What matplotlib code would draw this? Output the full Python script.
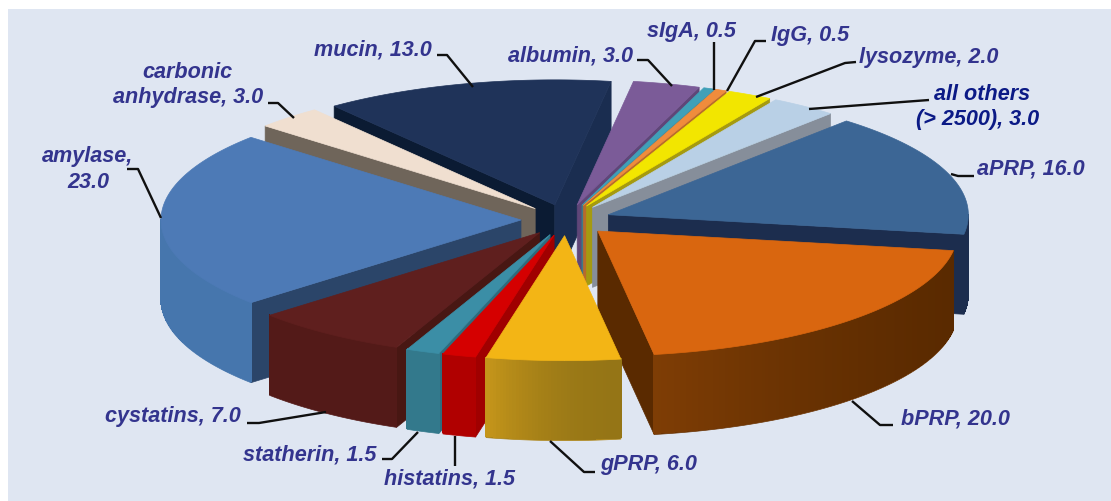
import numpy as np
import matplotlib
matplotlib.use("Agg")
import matplotlib.pyplot as plt
from matplotlib.colors import to_rgb
from matplotlib.patches import Polygon, Rectangle

# ---- data (clockwise, starting at the mucin/albumin boundary) ----
names = ["albumin", "sIgA", "IgG", "lysozyme", "all others", "aPRP", "bPRP",
         "gPRP", "histatins", "statherin", "cystatins", "amylase",
         "carbonic anhydrase", "mucin"]
values = [3.0, 0.5, 0.5, 2.0, 3.0, 16.0, 20.0, 6.0, 1.5, 1.5, 7.0, 23.0, 3.0, 13.0]

top_colors = ["#7b5b98", "#40a0b8", "#f08c3c", "#f2e600", "#b9d0e6", "#3c6695", "#d9660f",
              "#f3b515", "#d50000", "#3b8ea6", "#5f1f1e", "#4d7ab6", "#f0dfd0", "#1f3359"]
wall_start = ["#5f4678", "#2f7d90", "#b86a2c", "#a59a10", "#868e9a", "#1c2d4e", "#7e3d05",
              "#c4951a", "#b00000", "#33798c", "#531a18", "#4676ad", "#6f655a", "#0b1b33"]
wall_end = ["#5f4678", "#2f7d90", "#b86a2c", "#a59a10", "#868e9a", "#1c2d4e", "#5a2a00",
            "#957516", "#b00000", "#33798c", "#531a18", "#4676ad", "#6f655a", "#0b1b33"]
cut_start = ["#5f4678", "#2f7d90", "#b86a2c", "#a59a10", "#868e9a", "#1c2d4e", "#5a2a00",
             "#957516", "#a00000", "#2d6c7e", "#481713", "#2b4569", "#6f655a", "#0b1b33"]
cut_end = ["#5f4678", "#2f7d90", "#b86a2c", "#a59a10", "#868e9a", "#1c2d4e", "#5a2a00",
           "#957516", "#a00000", "#2d6c7e", "#481713", "#2b4569", "#6f655a", "#1a2d50"]

# ---- layout ----
W, H = 1111, 502
CX, CY = 566, 221
RX, RY = 360, 125
DEPTH = 80
EXPLODE = 0.125
START = 9.0
BG = "#dfe6f2"
TXT = "#33348e"
TXT2 = "#0b1a86"

labels = [
    ("mucin, 13.0", 373, 50, TXT), ("carbonic", 187, 72, TXT), ("anhydrase, 3.0", 188, 98, TXT),
    ("amylase,", 88, 157, TXT), ("23.0", 88, 183, TXT), ("albumin, 3.0", 570, 56, TXT),
    ("sIgA, 0.5", 691, 31, TXT), ("IgG, 0.5", 810, 36, TXT), ("lysozyme, 2.0", 929, 58, TXT),
    ("all others", 982, 94, TXT2), ("(> 2500), 3.0", 978, 120, TXT2), ("aPRP, 16.0", 1031, 169, TXT),
    ("bPRP, 20.0", 955, 419, TXT), ("gPRP, 6.0", 649, 465, TXT), ("histatins, 1.5", 450, 479, TXT),
    ("statherin, 1.5", 310, 455, TXT), ("cystatins, 7.0", 173, 417, TXT),
]
leaders = [
    [(437, 56), (447, 56), (473, 88)], [(268, 104), (278, 104), (294, 119)],
    [(127, 170), (138, 170), (161, 219)], [(637, 61), (648, 61), (672, 87)],
    [(714, 43), (714, 91)], [(766, 42), (755, 42), (727, 92)],
    [(856, 63), (845, 64), (756, 98)], [(929, 101), (809, 110)],
    [(974, 177), (958, 177), (951, 175)], [(893, 426), (880, 426), (852, 402)],
    [(595, 473), (584, 473), (550, 442)], [(455, 437), (455, 467)],
    [(382, 460), (392, 460), (418, 433)], [(247, 424), (259, 424), (326, 413)],
]

plt.rcParams["font.family"] = ["Liberation Sans", "DejaVu Sans"]
fig = plt.figure(figsize=(W / 100, H / 100), dpi=100, facecolor="white")
ax = fig.add_axes([0, 0, 1, 1])
ax.set_xlim(0, W)
ax.set_ylim(H, 0)
ax.axis("off")
ax.add_patch(Rectangle((8, 10), W - 8, H - 10, facecolor=BG, edgecolor="none", zorder=0))


def pt(theta, radius=1.0):
    t = np.radians(theta)
    return np.array([RX * radius * np.sin(t), -RY * radius * np.cos(t)])


def mix(c1, c2, f):
    a, b = np.array(to_rgb(c1)), np.array(to_rgb(c2))
    return tuple(a + (b - a) * f)


z = [1]


def poly(points, color, aa=True, lw=0.5):
    ax.add_patch(Polygon(points, closed=True, facecolor=color, edgecolor=color if lw else "none",
                         linewidth=lw, antialiased=aa, zorder=z[0]))
    z[0] += 1


spans = []
a = START
for v in values:
    spans.append((a, a + v * 3.6))
    a += v * 3.6

order = sorted(range(len(values)), key=lambda i: -np.cos(np.radians(sum(spans[i]) / 2)))
for i in order:
    t1, t2 = spans[i]
    apex = np.array([CX, CY]) + pt((t1 + t2) / 2, EXPLODE)
    drop = np.array([0, DEPTH])
    inner = np.array([0, DEPTH - 1.5])
    thetas = np.linspace(t1, t2, max(int(t2 - t1) * 2, 4) + 1)
    rim = np.array([apex + pt(t) for t in thetas])
    # cut faces that look towards the viewer
    if np.sin(np.radians(t1)) < 0:
        p = apex + pt(t1)
        poly([apex, p, p + drop, apex + drop], cut_start[i])
    if np.sin(np.radians(t2)) > 0:
        p = apex + pt(t2)
        poly([apex, p, p + drop, apex + drop], cut_end[i])
    # outer wall: a smooth base shape, then dark-to-light vertical bands above its lower edge
    n = len(thetas) - 1
    front = [k for k in range(n) if np.cos(np.radians((thetas[k] + thetas[k + 1]) / 2)) < 0]
    if front:
        seg = rim[front[0]:front[-1] + 2]
        poly(np.vstack([seg, (seg + drop)[::-1]]), mix(wall_end[i], wall_start[i], 0.5))
    for k in front:
        f = (k / max(n - 1, 1)) ** 2
        poly([rim[k], rim[k + 1], rim[k + 1] + inner, rim[k] + inner],
             mix(wall_end[i], wall_start[i], f), aa=False)
    # top surface
    poly(np.vstack([apex, rim]), top_colors[i])

for path in leaders:
    xs, ys = zip(*path)
    ax.plot(xs, ys, color="#101010", lw=1.7, solid_capstyle="butt", solid_joinstyle="round", zorder=z[0])
for s, x, y, c in labels:
    ax.text(x, y, s, ha="center", va="center", color=c, fontsize=15.6,
            fontweight="bold", fontstyle="italic", zorder=z[0] + 1)

fig.savefig("out.png", dpi=100, facecolor="white")
